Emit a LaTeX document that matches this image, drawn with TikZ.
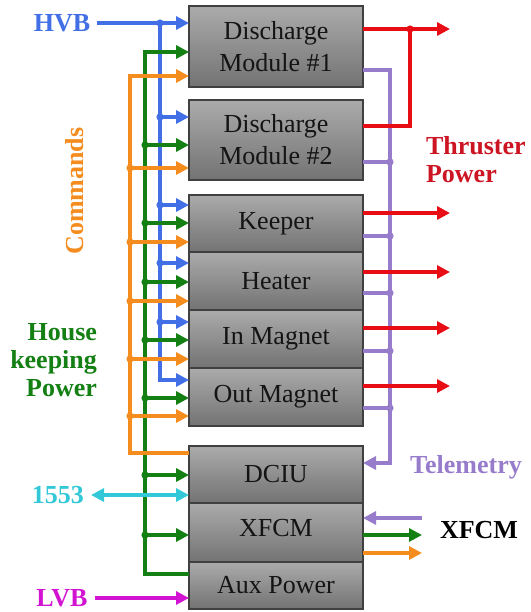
\documentclass[tikz,border=0pt]{standalone}
\usepackage{fontspec}
\setmainfont{Liberation Serif}
\usetikzlibrary{arrows.meta, positioning}
\definecolor{hvblue}{RGB}{66,110,230}
\definecolor{hkgreen}{RGB}{20,128,20}
\definecolor{cmdorange}{RGB}{245,140,30}
\definecolor{thrred}{RGB}{232,12,20}
\definecolor{lblred}{RGB}{205,20,35}
\definecolor{tlmpurple}{RGB}{152,124,204}
\definecolor{buscyan}{RGB}{50,200,215}
\definecolor{lvbmagenta}{RGB}{210,20,210}

\begin{document}
\begin{tikzpicture}[
        x=0.5pt, y=-0.5pt,
        every node/.style={font=\fontsize{13}{16}\selectfont, align=center},
        box/.style={draw=black!75, line width=0.6pt, top color=black!33, bottom color=black!55, minimum width=87pt, text=black!92, inner sep=0pt, outer sep=0pt},
        lbl/.style={font=\fontsize{13}{14}\selectfont\bfseries},
        wire/.style={line width=1.6pt},
        feed/.style={wire, -{Triangle[length=6.5pt,width=6.5pt]}},
        jn/.style={circle, fill, inner sep=0pt, minimum size=3.6pt}
      ]
      \useasboundingbox (0,0) rectangle (531,612);
      % modules
      \node[box, minimum height=40.5pt] (dm1) at (276,46.5) {Discharge\\Module \#1};
      \node[box, minimum height=40pt, below=6.5pt of dm1] (dm2) {Discharge\\Module \#2};
      \node[box, minimum height=28.5pt, below=7.5pt of dm2] (keep) {Keeper};
      \node[box, minimum height=29pt, below=0pt of keep] (heat) {Heater};
      \node[box, minimum height=29pt, below=0pt of heat] (inmag) {In Magnet};
      \node[box, minimum height=29pt, below=0pt of inmag] (outmag) {Out Magnet};
      \node[box, minimum height=28.5pt, below=10pt of outmag] (dciu) {DCIU};
      \node[box, minimum height=29.5pt, below=0pt of dciu] (xfcm) {\raisebox{5pt}{XFCM}};
      \node[box, minimum height=23.5pt, below=0pt of xfcm] (aux) {Aux Power};
      % labels
      \node[lbl, text=hvblue] (hvb) at (62,23) {HVB};
      \node[lbl, text=cmdorange, rotate=90] (cmd) at (75,191) {Commands};
      \node[lbl, text=hkgreen, align=right, anchor=east] (hk) at (104,360) {House\\keeping\\Power};
      \node[lbl, text=buscyan] (b1553) at (58,495) {1553};
      \node[lbl, text=lvbmagenta] (lvb) at (62,598) {LVB};
      \node[lbl, text=lblred, align=left, anchor=west] (thr) at (419,160) {Thruster\\Power};
      \node[lbl, text=tlmpurple] (tlm) at (466,467) {Telemetry};
      \node[lbl, text=black] (xf) at (479,530) {XFCM};
      % bus lines
      \coordinate (cmdx) at (130,0);
      \coordinate (hkx) at (145,0);
      \coordinate (hvx) at (160,0);
      \coordinate (tlmx) at (390,0);
      \coordinate (thrx) at (410,0);
      \coordinate (outx) at (450,0);
      \coordinate (xfr) at (422,0);

      % high voltage
      \draw[feed, hvblue] (hvb.east) -- (dm1.west |- hvb.east);
      \draw[feed, hvblue] (hvx |- hvb.east) |- (outmag.west |- 0,380);
      \node[jn, hvblue] at (hvx |- hvb.east) {};
      \foreach \b/\y in {dm2/117, keep/205, heat/263, inmag/322} {
        \draw[feed, hvblue] (hvx |- 0,\y) -- (\b.west |- 0,\y);
        \node[jn, hvblue] at (hvx |- 0,\y) {};
      }
      % housekeeping power
      \draw[feed, hkgreen] (aux.west |- 0,574) -| (hkx |- 0,52) -- (dm1.west |- 0,52);
      \foreach \b/\y in {dm2/145, keep/223, heat/282, inmag/340, outmag/398, dciu/475, xfcm/535} {
        \draw[feed, hkgreen] (hkx |- 0,\y) -- (\b.west |- 0,\y);
        \node[jn, hkgreen] at (hkx |- 0,\y) {};
      }
      % commands
      \draw[feed, cmdorange] (dciu.west |- 0,453) -| (cmdx |- 0,76) -- (dm1.west |- 0,76);
      \foreach \b/\y in {dm2/168, keep/242, heat/301, inmag/359, outmag/416} {
        \draw[feed, cmdorange] (cmdx |- 0,\y) -- (\b.west |- 0,\y);
        \node[jn, cmdorange] at (cmdx |- 0,\y) {};
      }
      % 1553 and LVB
      \draw[wire, buscyan, {Triangle[length=6.5pt,width=6.5pt]}-{Triangle[length=6.5pt,width=6.5pt]}] (b1553.east) -- (dciu.west |- b1553.east);
      \draw[feed, lvbmagenta] (lvb.east) -- (aux.west |- lvb.east);

      % telemetry
      \draw[feed, tlmpurple] (dm1.east |- 0,70) -| (tlmx |- 0,463) -- (dciu.east |- 0,463);
      \foreach \b/\y in {dm2/162, keep/236, heat/293, inmag/351, outmag/408} {
        \draw[wire, tlmpurple] (\b.east |- 0,\y) -- (tlmx |- 0,\y);
        \node[jn, tlmpurple] at (tlmx |- 0,\y) {};
      }
      % thruster power
      \draw[wire, thrred] (dm2.east |- 0,126) -| (thrx |- 0,29);
      \draw[feed, thrred] (dm1.east |- 0,29) -- (outx |- 0,29);
      \node[jn, thrred] at (thrx |- 0,29) {};
      \foreach \b/\y in {keep/213, heat/272, inmag/328, outmag/386} {
        \draw[feed, thrred] (\b.east |- 0,\y) -- (outx |- 0,\y);
      }
      % xfcm interface
      \draw[feed, tlmpurple] (xfr |- 0,518) -- (xfcm.east |- 0,518);
      \draw[feed, hkgreen] (xfcm.east |- 0,535) -- (xfr |- 0,535);
      \draw[feed, cmdorange] (xfcm.east |- 0,553) -- (xfr |- 0,553);
      \end{tikzpicture}
\end{document}
